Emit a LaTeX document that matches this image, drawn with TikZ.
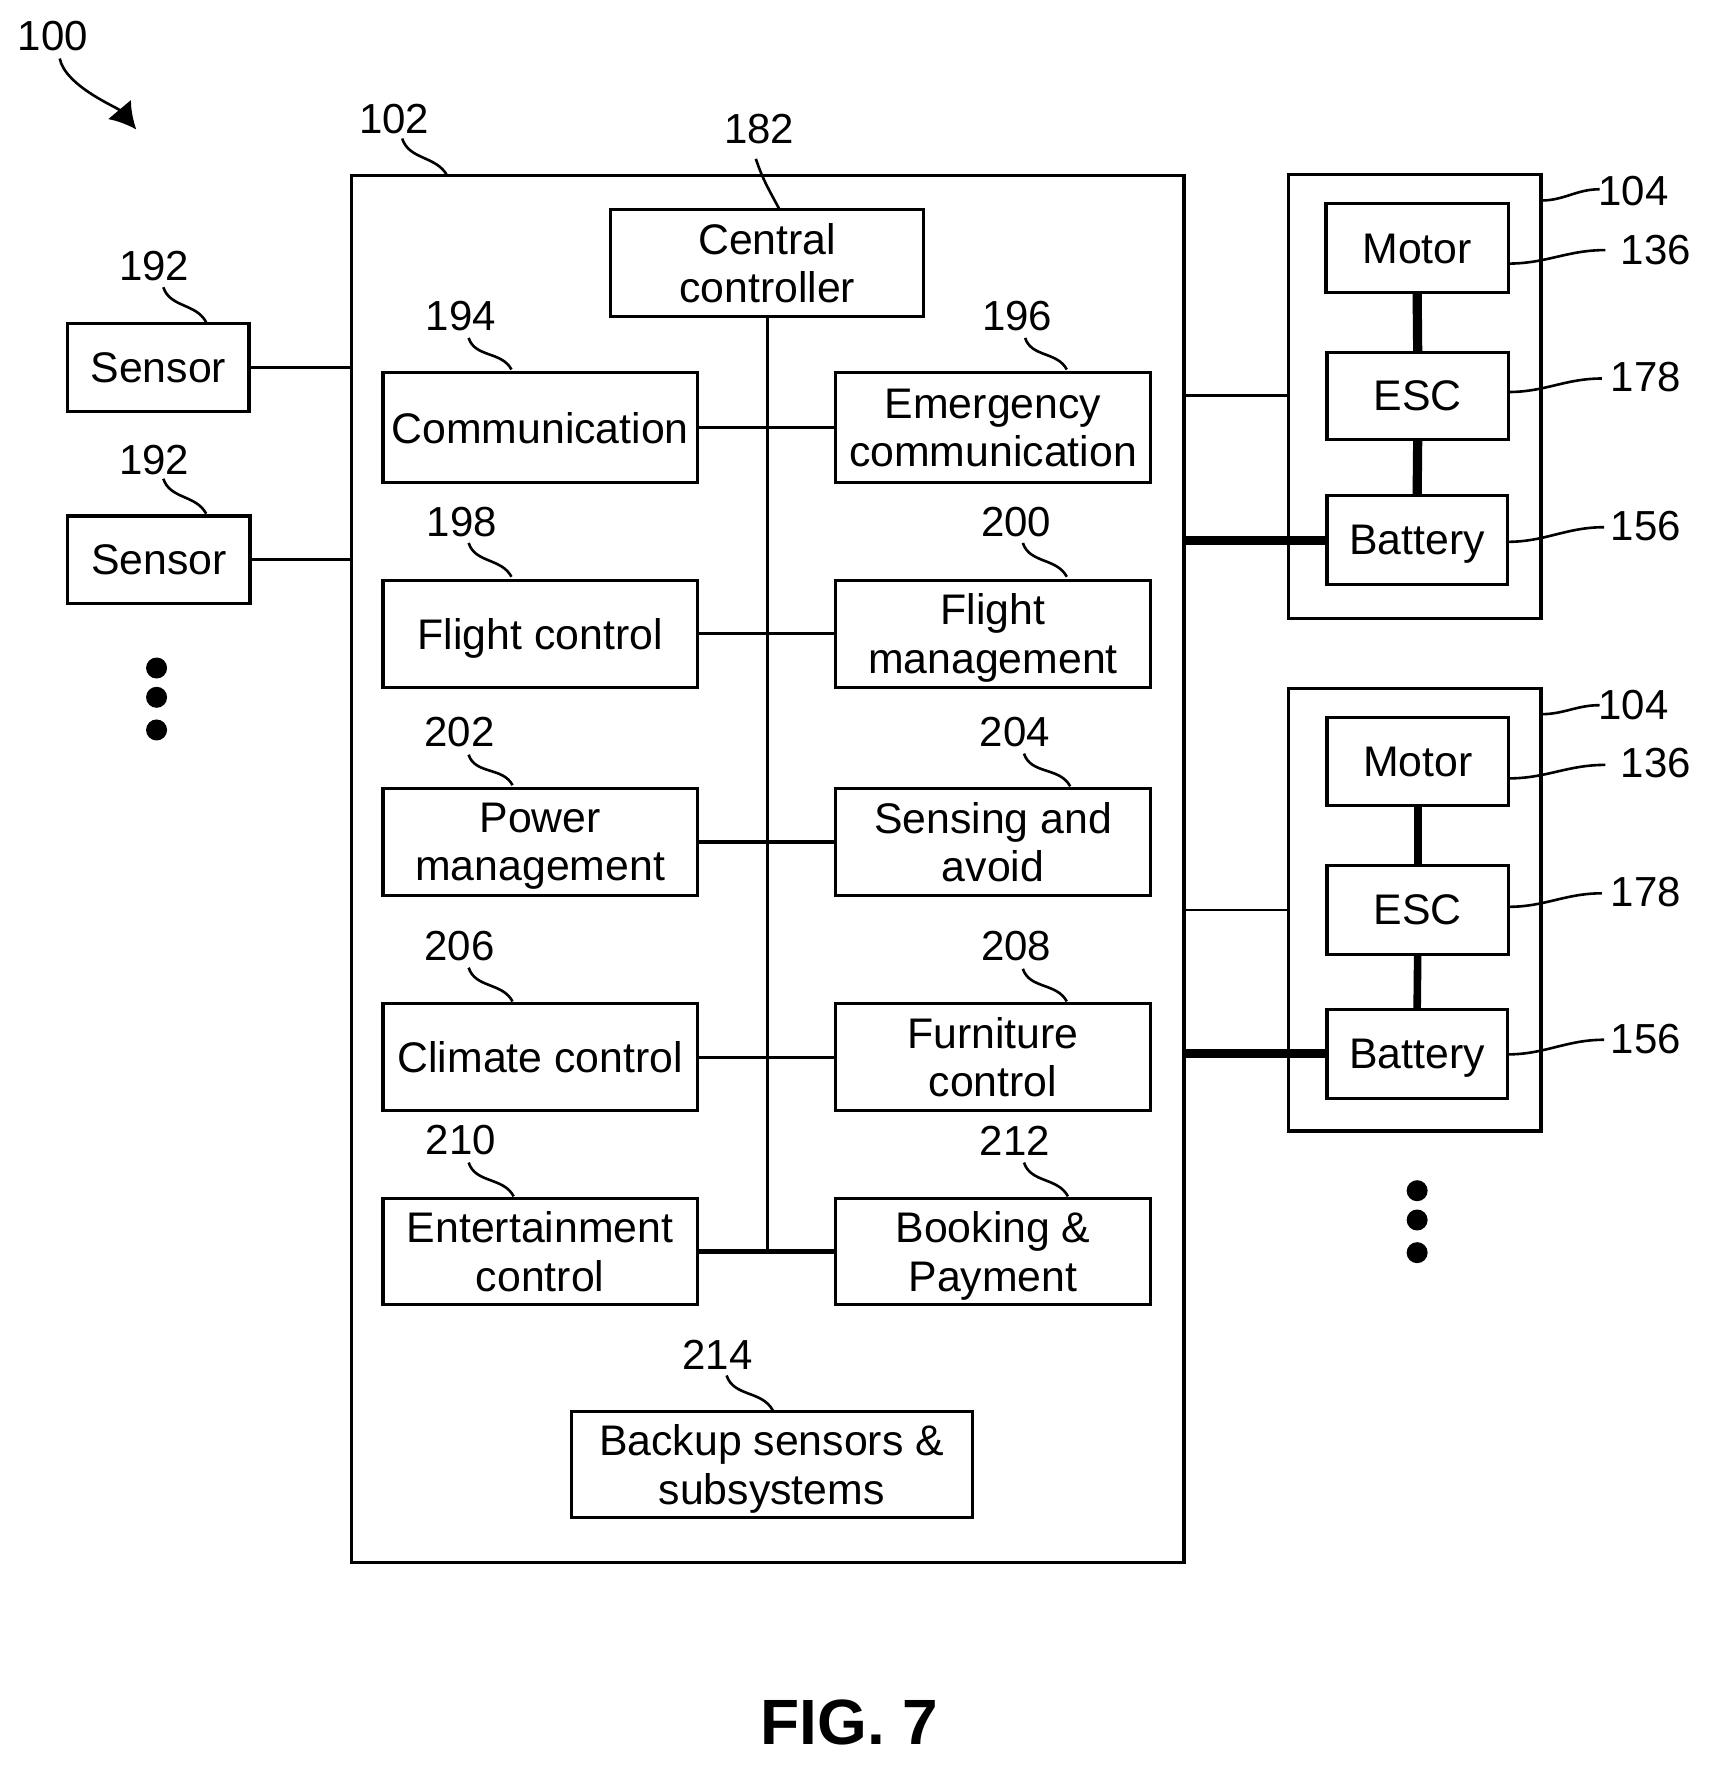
\documentclass[tikz,border=0pt]{standalone}
\usepackage{fontspec}
\setmainfont{Liberation Sans}
\usetikzlibrary{calc,arrows.meta}
\tikzset{
  x=0.56325pt,y=-0.56325pt,
  txt/.style={font=\fontsize{21.4}{24.2}\selectfont,text=black},
  bx/.style={draw=black,line width=1.6pt,inner sep=0pt,outer sep=0pt,align=center,text depth=0pt,txt},
  num/.style={inner sep=0pt,font=\fontsize{21}{24.2}\selectfont,text=black},
  wire/.style={draw=black,line width=1.5pt},
  slim/.style={draw=black,line width=1.1pt},
  fat/.style={draw=black,line width=2.4pt},
  mid/.style={draw=black,line width=3.8pt},
  power/.style={draw=black,line width=4.6pt},
  lead/.style={draw=black,line width=1.3pt},
  dot/.style={circle,fill=black,inner sep=0pt,minimum size=10.5pt,draw=none},
}
\newcommand{\bxn}[6]{\node[bx,minimum width={(#4-#2)*0.56325pt},minimum height={(#5-#3)*0.56325pt}] (#1) at ({(#2+#4)/2},{(#3+#5)/2}) {#6};}
\newcommand{\ldr}[4]{\draw[lead] ($(#1)+(#2)$) to[out=-72,in=118] ($(#3)+(#4)$);}
\newcommand{\ldrr}[4]{\draw[lead] ($(#1)+(#2)$) to[out=0,in=180] ($(#3)+(#4)$);}
\begin{document}
\begin{tikzpicture}
\useasboundingbox (0,0) rectangle (1518,1567.7);
% containers
\bxn{main}{312}{156}{1051}{1387}{}
\bxn{blockA}{1144}{155}{1368}{549}{}
\bxn{blockB}{1144}{611}{1368}{1004}{}
% central column
\bxn{central}{542}{186}{820}{281}{Central\\controller}
\bxn{comm}{340}{331}{619}{428}{Communication}
\bxn{emerg}{742}{331}{1021}{428}{Emergency\\communication}
\bxn{fctl}{340}{515}{619}{610}{Flight control}
\bxn{fmgt}{742}{515}{1021}{610}{Flight\\management}
\bxn{pmgt}{340}{700}{619}{795}{Power\\management}
\bxn{sense}{742}{700}{1021}{795}{Sensing and\\avoid}
\bxn{clim}{340}{891}{619}{986}{Climate control}
\bxn{furn}{742}{891}{1021}{986}{Furniture\\control}
\bxn{ent}{340}{1064}{619}{1158}{Entertainment\\control}
\bxn{book}{742}{1064}{1021}{1158}{Booking \&\\Payment}
\bxn{backup}{507}{1253}{863}{1347}{Backup sensors \&\\subsystems}
% sensors
\bxn{sensA}{60}{287}{221}{365}{Sensor}
\bxn{sensB}{60}{458}{222}{536}{Sensor}
% right blocks
\bxn{motA}{1177}{181}{1339}{260}{Motor}
\bxn{escA}{1178}{313}{1339}{390}{ESC}
\bxn{batA}{1178}{440}{1338}{519}{Battery}
\bxn{motB}{1178}{637}{1339}{715}{Motor}
\bxn{escB}{1178}{768}{1339}{847}{ESC}
\bxn{batB}{1178}{896}{1338}{975}{Battery}
% bus
\coordinate (busEnd) at (central.south |- ent.east);
\draw[wire] (central.south) -- (busEnd);
\draw[wire] (comm.east) -- (emerg.west);
\draw[wire] (fctl.east) -- (fmgt.west);
\draw[fat] (pmgt.east) -- (sense.west);
\draw[wire] (clim.east) -- (furn.west);
\draw[fat] (ent.east) -- (book.west);
% sensor links
\draw[wire] (sensA.east) -- (sensA.east -| main.west);
\draw[wire] (sensB.east) -- (sensB.east -| main.west);
% block links
\draw[wire] (escA.west -| main.east) -- (escA.west -| blockA.west);
\draw[power] (batA.west -| main.east) -- (batA.west);
\draw[slim] (escB.west -| main.east) -- (escB.west -| blockB.west);
\draw[power] (batB.west -| main.east) -- (batB.west);
\draw[power] (motA.south) -- (escA.north);
\draw[power] (escA.south) -- (batA.north);
\draw[mid] (motB.south) -- (escB.north);
\draw[mid] (escB.south) -- (batB.north);
% dots
\node[dot] (dA1) at (139,593) {};
\node[dot] (dA2) at (139,619) {};
\node[dot] (dA3) at (139,648) {};
\node[dot] (dB1) at (1258,1057) {};
\node[dot] (dB2) at (1258,1083) {};
\node[dot] (dB3) at (1258,1112) {};
% numerals
\node[num] (l100) at (47,32) {100};
\node[num] (l102) at (350,106) {102};
\node[num] (l182) at (674,115) {182};
\node[num] (l192a) at (137,236) {192};
\node[num] (l192b) at (137,408) {192};
\node[num] (l194) at (409,281) {194};
\node[num] (l196) at (903,281) {196};
\node[num] (l198) at (410,463) {198};
\node[num] (l200) at (902,463) {200};
\node[num] (l202) at (408,650) {202};
\node[num] (l204) at (901,650) {204};
\node[num] (l206) at (408,840) {206};
\node[num] (l208) at (902,840) {208};
\node[num] (l210) at (409,1012) {210};
\node[num] (l212) at (901,1013) {212};
\node[num] (l214) at (637,1203) {214};
\node[num] (l104a) at (1450,170) {104};
\node[num] (l136a) at (1470,222) {136};
\node[num] (l178a) at (1461,335) {178};
\node[num] (l156a) at (1461,467) {156};
\node[num] (l104b) at (1450,626) {104};
\node[num] (l136b) at (1470,677) {136};
\node[num] (l178b) at (1461,792) {178};
\node[num] (l156b) at (1461,922) {156};
\node[font=\fontsize{32}{36}\selectfont\bfseries,inner sep=0pt] (fig) at (754,1529) {FIG. 7};
% leaders
\coordinate (a100) at (121,115);
\draw[lead,-{Latex[length=13pt,width=15pt]}] ($(l100)+(6,20)$) to[out=-78,in=130,looseness=.7] (a100);
\ldr{l102}{7,17}{main.north west}{85,0}
\ldr{l182}{-3,26}{central.north west}{150,0}
\ldr{l192a}{8,19}{sensA.north west}{123,-1}
\ldr{l192b}{8,17}{sensB.north west}{123,-2}
\ldr{l194}{7,19}{comm.north west}{114,-3}
\ldr{l196}{7,19}{emerg.north west}{205,-3}
\ldr{l198}{6,19}{fctl.north west}{114,-3}
\ldr{l200}{6,19}{fmgt.north west}{205,-3}
\ldr{l202}{8,20}{pmgt.north west}{115,-3}
\ldr{l204}{8,19}{sense.north west}{208,-2}
\ldr{l206}{8,19}{clim.north west}{115,-2}
\ldr{l208}{6,20}{furn.north west}{205,-2}
\ldr{l210}{7,20}{ent.north west}{116,-2}
\ldr{l212}{8,19}{book.north west}{206,-2}
\ldr{l214}{8,18}{backup.north west}{179,-1}
\ldrr{blockA.north east}{0,23}{l104a}{-30,-2}
\ldrr{motA.south east}{0,-26}{l136a}{-45,0}
\ldrr{escA.south east}{0,-42}{l178a}{-39,1}
\ldrr{batA.south east}{0,-38}{l156a}{-37,1}
\ldrr{blockB.north east}{0,23}{l104b}{-30,0}
\ldrr{motB.south east}{0,-24}{l136b}{-45,2}
\ldrr{escB.south east}{0,-42}{l178b}{-39,1}
\ldrr{batB.south east}{0,-39}{l156b}{-37,1}
\end{tikzpicture}
\end{document}
